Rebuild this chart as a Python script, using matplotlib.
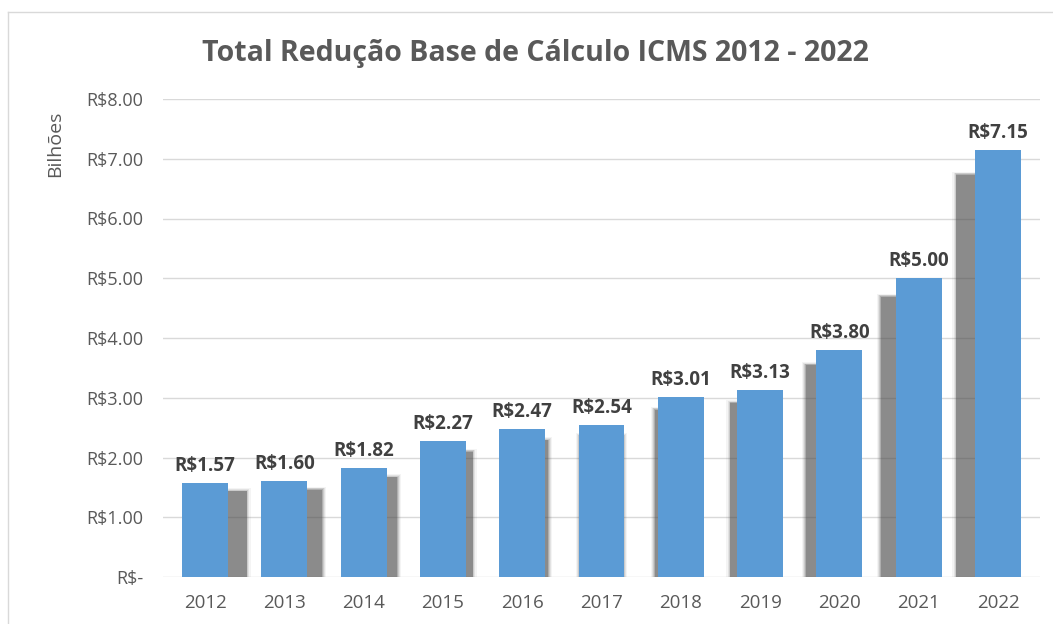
import matplotlib.pyplot as plt
import numpy as np

years = ["2012", "2013", "2014", "2015", "2016", "2017",
         "2018", "2019", "2020", "2021", "2022"]
values = [1.57, 1.60, 1.82, 2.27, 2.47, 2.54, 3.01, 3.13, 3.80, 5.00, 7.15]
y_ticks = [0, 1, 2, 3, 4, 5, 6, 7, 8]
y_tick_labels = ["R$-", "R$1.00", "R$2.00", "R$3.00", "R$4.00",
                 "R$5.00", "R$6.00", "R$7.00", "R$8.00"]

BLUE = "#5B9BD5"
TEXT = "#595959"
GRID = "#D9D9D9"

plt.rcParams["font.family"] = ["Open Sans", "DejaVu Sans"]

fig = plt.figure(figsize=(10.53, 6.24), dpi=100)
ax = fig.add_axes([163 / 1053, 1 - 577 / 624, (1040 - 163) / 1053, (577 - 99) / 624])

x = np.arange(len(years))
width = 0.58

# perspective shadow: bars scaled towards the middle of the plot, soft edges
cx = (len(years) - 1) / 2
scale = 0.95
for xi, v in zip(x, values):
    sx = cx + (xi - cx) * scale
    for grow, alpha in [(0.10, 0.06), (0.07, 0.10), (0.045, 0.15), (0.02, 0.22), (0.0, 0.35)]:
        ax.bar(sx, v * scale - 0.06 + grow * 0.5, width=width * scale + grow,
               color="#4a4a4a", alpha=alpha, linewidth=0, zorder=1)

bars = ax.bar(x, values, width=width, color=BLUE, zorder=2)

for xi, v in zip(x, values):
    ax.text(xi, v + 0.12, f"R${v:.2f}", ha="center", va="bottom",
            fontsize=13.5, fontweight="bold", color="#404040")

ax.set_xlim(-0.53, len(years) - 1 + 0.53)
ax.set_ylim(0, 8)
ax.set_yticks(y_ticks)
ax.set_yticklabels(y_tick_labels, fontsize=13, color=TEXT)
ax.set_xticks(x)
ax.set_xticklabels(years, fontsize=13.5, color=TEXT)
ax.tick_params(length=0)
ax.tick_params(axis="y", pad=14)
ax.tick_params(axis="x", pad=12)
ax.grid(axis="y", color=GRID, linewidth=1, zorder=0)
ax.set_axisbelow(True)
for s in ax.spines.values():
    s.set_visible(False)

fig.text(535 / 1053, 1 - 53 / 624, "Total Redução Base de Cálculo ICMS 2012 - 2022",
         ha="center", va="center", fontsize=20.5, fontweight="bold", color=TEXT)
fig.text(55 / 1053, 1 - 144 / 624, "Bilhões", rotation=90, ha="center", va="center",
         fontsize=14, color=TEXT)

# chart border (top and left visible in the crop)
fig.add_artist(plt.Line2D([8 / 1053, 1], [1 - 12 / 624, 1 - 12 / 624], color=GRID, lw=1))
fig.add_artist(plt.Line2D([8 / 1053, 8 / 1053], [0, 1 - 12 / 624], color=GRID, lw=1))

fig.savefig("out.png", dpi=100)
